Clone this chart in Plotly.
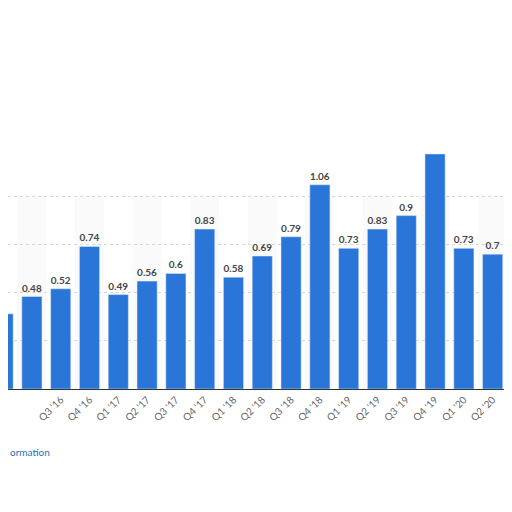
import plotly.graph_objects as go

quarters = ["Q1 '16","Q2 '16","Q3 '16","Q4 '16","Q1 '17","Q2 '17","Q3 '17","Q4 '17",
            "Q1 '18","Q2 '18","Q3 '18","Q4 '18","Q1 '19","Q2 '19","Q3 '19","Q4 '19",
            "Q1 '20","Q2 '20","Q3 '20"]
values = [0.39,0.48,0.52,0.74,0.49,0.56,0.6,0.83,0.58,0.69,0.79,1.06,0.73,0.83,0.9,1.22,0.73,0.7,1.03]
labels = ["0.39","0.48","0.52","0.74","0.49","0.56","0.6","0.83","0.58","0.69","0.79","1.06",
          "0.73","0.83","0.9","","0.73","0.7","1.03"]

x = list(range(len(quarters)))
fig = go.Figure(go.Bar(x=x, y=values, text=["<b>%s</b>" % t if t else "" for t in labels],
                       textposition="outside", width=0.7,
                       marker=dict(color="#2a76d8"), cliponaxis=False,
                       textfont=dict(family="Lato", size=10, color="#444444")))
shapes = []
for i in range(1, len(quarters), 2):
    shapes.append(dict(type="rect", xref="x", yref="paper", x0=i-0.5, x1=i+0.5, y0=0, y1=0.67,
                       fillcolor="#fafafa", line_width=0, layer="below"))
fig.update_layout(
    width=512, height=512, margin=dict(l=0, r=0, t=92, b=131),
    paper_bgcolor="white", plot_bgcolor="white", showlegend=False, shapes=shapes,
    xaxis=dict(range=[0.17, 17.95], tickvals=x, ticktext=quarters, tickangle=-45, automargin=False,
               tickfont=dict(family="Lato", size=10, color="#666666"),
               showline=True, linecolor="#333333", linewidth=1, showgrid=False),
    yaxis=dict(range=[0, 1.5], tickvals=[0.25, 0.5, 0.75, 1.0], showticklabels=False, automargin=False,
               showgrid=True, gridcolor="#d8d8d8", griddash="dot", zeroline=False),
    annotations=[
        dict(text="ormation", xref="paper", yref="paper", x=0, y=-0.245, xanchor="left",
             showarrow=False, font=dict(family="Lato", size=10, color="#1f6fb5")),
        dict(text="©", xref="paper", yref="paper", x=0.998, y=-0.255, xanchor="right",
             showarrow=False, font=dict(family="Lato", size=10, color="#1f6fb5")),
    ],
)
fig.write_html("out.html")
